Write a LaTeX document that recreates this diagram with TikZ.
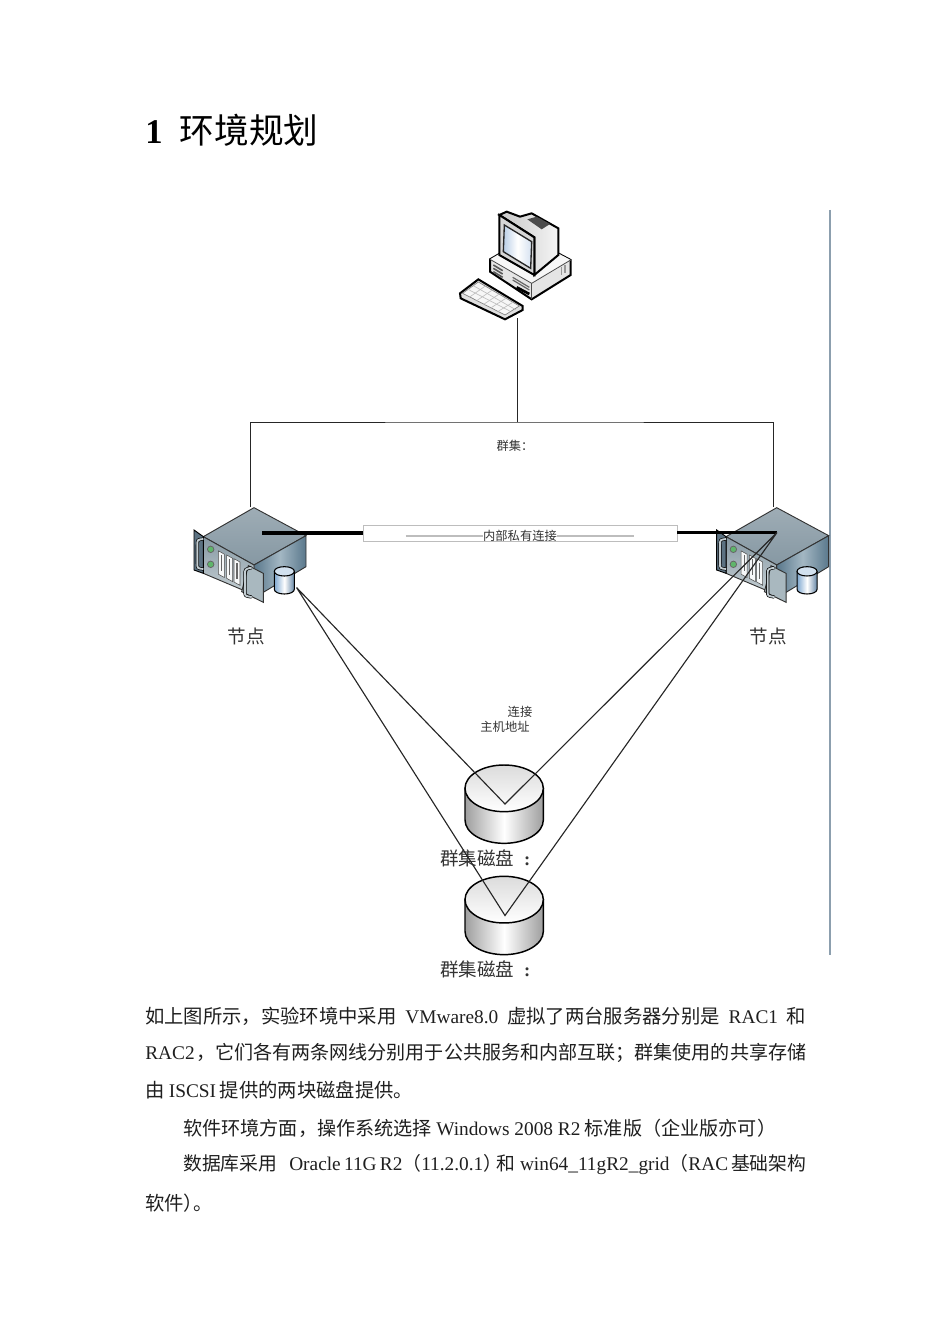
\documentclass[tikz,border=0pt]{standalone}
\usepackage{fontspec}
\setmainfont{Noto Sans CJK SC}
\newfontfamily\lat{Liberation Serif}
\newcommand{\latb}[1]{{\fontsize{14.5}{16}\lat #1}}
\usetikzlibrary{positioning}
\definecolor{ruleblue}{HTML}{8C9FAE}
\definecolor{boxgray}{HTML}{BDBDBD}
\definecolor{topblue}{HTML}{8698A3}
\definecolor{sideblue}{HTML}{5A788C}
\definecolor{sidelight}{HTML}{A3B7C3}
\definecolor{plategray}{HTML}{A9B8BF}
\definecolor{earblue}{HTML}{5C7282}
\definecolor{ledgreen}{HTML}{5FB56B}
\definecolor{drumblue}{HTML}{7FA8D0}
\definecolor{screenblue}{HTML}{B9CEE6}
\tikzset{
  bodyline/.style={anchor=west, inner sep=0pt, font=\fontsize{14.5}{16}\selectfont, text=black!88},
  biglabel/.style={inner sep=0pt, font=\fontsize{13.9}{16}\selectfont, text=black!80},
  smalllabel/.style={inner sep=0pt, font=\fontsize{9.2}{11}\selectfont, text=black!80},
  buswire/.style={draw=black!85, line width=0.6pt},
  wire/.style={draw=black!85, line width=0.85pt},
  fatwire/.style={draw=black, line width=2.6pt},
  pics/rackserver/.style={code={
    % body
    \draw[black!80, line width=0.7pt, top color=topblue!80, bottom color=topblue] (222,38) -- (378,122) -- (222,210) -- (70,125) -- cycle;
    \draw[black!80, line width=0.7pt, left color=sideblue, right color=sideblue, middle color=sidelight] (222,210) -- (378,122) -- (378,215) -- (250,292) -- (222,275) -- cycle;
    \draw[black!80, line width=0.7pt, top color=topblue, bottom color=plategray!70] (70,125) -- (222,210) -- (222,275) -- (200,290) -- (70,235) -- cycle;
    % ears
    \draw[black, line width=0.7pt, fill=earblue] (42,105) -- (70,125) -- (70,235) -- (42,225) -- cycle;
    \draw[black!80, line width=0.7pt, fill=plategray] (205,212) -- (250,235) -- (250,322) -- (185,290) -- cycle;
    \draw[black, line width=2.4pt] (70,132) .. controls (52,134) .. (52,150) -- (52,205) .. controls (52,220) .. (70,222);
    \draw[plategray!70, line width=1.4pt] (70,132) .. controls (52,134) .. (52,150) -- (52,205) .. controls (52,220) .. (70,222);
    \draw[black, line width=2.4pt] (215,218) .. controls (195,222) .. (195,238) -- (195,290) .. controls (195,303) .. (215,306);
    \draw[plategray!70, line width=1.4pt] (215,218) .. controls (195,222) .. (195,238) -- (195,290) .. controls (195,303) .. (215,306);
    % leds
    \fill[black!60] (92,163) circle (11);
    \fill[ledgreen] (92,163) circle (8);
    \fill[black!60] (92,208) circle (11);
    \fill[ledgreen] (92,208) circle (8);
    % slots
    \foreach \sx in {115,140,162}{
      \draw[black!70, line width=0.4pt, fill=white!90!plategray] (\sx,167+\sx/2-57) -- ++(18,10) -- ++(0,70) -- ++(-18,-10) -- cycle;
      \draw[black!60, line width=0.8pt] (\sx+9,180+\sx/2-57) -- ++(0,48);
    }
    % drum
    \draw[black, line width=0.8pt, left color=drumblue, right color=drumblue!80!black, middle color=white] (283,229) -- (283,283) .. controls (283,291) and (296,297) .. (313,297) .. controls (330,297) and (343,291) .. (343,283) -- (343,229) -- cycle;
    \draw[black, line width=0.8pt, fill=drumblue!35] (283,229) .. controls (283,221) and (296,215) .. (313,215) .. controls (330,215) and (343,221) .. (343,229) .. controls (343,237) and (330,243) .. (313,243) .. controls (296,243) and (283,237) .. (283,229) -- cycle;
  }},
  pics/clusterdisk/.style={code={
    \draw[black, line width=1.1pt, left color=black!38, right color=black!38, middle color=white] (105,115) -- (105,210) .. controls (105,249) and (158,280) .. (222,280) .. controls (287,280) and (340,249) .. (340,210) -- (340,115) -- cycle;
    \draw[black, line width=1.1pt, top color=black!14, bottom color=white] (105,115) .. controls (105,76) and (158,45) .. (222,45) .. controls (287,45) and (340,76) .. (340,115) .. controls (340,154) and (287,185) .. (222,185) .. controls (158,185) and (105,154) .. (105,115) -- cycle;
  }},
  pics/desktoppc/.style={code={
    % base
    \draw[black, line width=1.5pt, fill=black!10] (150,178) -- (215,140) -- (345,155) -- (392,180) -- (392,225) -- (275,298) -- (150,215) -- cycle;
    \fill[black!3] (150,178) -- (215,140) -- (345,155) -- (392,180) -- (275,250) -- cycle;
    \draw[black!70, line width=0.6pt] (150,178) -- (275,250) -- (392,180);
    \draw[black!70, line width=0.6pt] (275,250) -- (275,298);
    \draw[black!65, line width=1.2pt] (160,195) -- (188,212) (160,205) -- (188,222) (160,215) -- (188,232);
    \draw[black!60, line width=0.9pt] (218,232) -- (268,262) (218,240) -- (268,270);
    \draw[black, line width=2pt] (230,262) -- (268,282);
    \draw[black!40, line width=1.2pt] (365,200) -- (365,225) (375,195) -- (375,220);
    % monitor
    \draw[black, line width=1.5pt, left color=black!22, right color=black!4] (178,45) -- (200,35) -- (240,50) -- (275,40) -- (355,85) -- (355,165) -- (283,225) -- (283,112) -- cycle;
    \draw[black, line width=1.5pt, fill=black!16] (178,45) -- (283,112) -- (283,225) -- (178,165) -- cycle;
    \draw[black!85, line width=1pt, left color=screenblue, right color=screenblue!60, middle color=white] (193,75) -- (275,125) -- (272,205) -- (190,155) -- cycle;
    \fill[black!70] (262,58) -- (290,50) -- (330,72) -- (305,88) -- cycle;
    % keyboard
    \draw[black, line width=1.5pt, fill=black!12] (60,280) -- (115,238) -- (248,318) -- (248,330) -- (195,358) -- (62,295) -- cycle;
    \draw[black!50, line width=0.5pt, fill=black!3] (68,280) -- (115,246) -- (238,318) -- (195,345) -- cycle;
    \foreach \kx in {1,...,5}{
      \draw[black!25, line width=0.5pt] (68+\kx*21,280+\kx*11) -- (115+\kx*21,246+\kx*12);
    }
    \draw[black!25, line width=0.5pt] (84,268) -- (211,334) (100,257) -- (227,329);
  }}
}
\begin{document}
\begin{tikzpicture}[x=0.75pt,y=-0.75pt]
\useasboundingbox (0,0) rectangle (950,1344);

% heading
\node[anchor=west, inner sep=0pt, font=\fontsize{26}{30}\selectfont] (heading) at (145,130) {{\lat\bfseries 1}\hspace{0.5em}环境规划};

% right margin rule
\coordinate (ruletop) at (830,210);
\coordinate (rulebottom) at (830,955);
\draw[ruleblue, line width=1.6pt] (ruletop) -- (rulebottom);

% icons
\begin{scope}[shift={(440,200)},x=0.25pt,y=-0.25pt]
  \pic {desktoppc};
\end{scope}
\begin{scope}[shift={(180,495)},x=0.25pt,y=-0.25pt]
  \pic {rackserver};
\end{scope}
\begin{scope}[shift={(702.7,495)},x=0.25pt,y=-0.25pt]
  \pic {rackserver};
\end{scope}
\begin{scope}[shift={(430,750)},x=0.25pt,y=-0.25pt]
  \pic {clusterdisk};
\end{scope}
\begin{scope}[shift={(430,861.3)},x=0.25pt,y=-0.25pt]
  \pic {clusterdisk};
\end{scope}

% connector ends
\coordinate (pcport) at (517,318);
\coordinate (bustop) at (517,422);
\coordinate (rac1top) at (250,507);
\coordinate (rac2top) at (773,507);
\coordinate (rac1hub) at (262,533);
\coordinate (rac2hub) at (777,532.5);
\coordinate (rac1port) at (296.5,587.5);
\coordinate (disk1tip) at (505,804);
\coordinate (disk2tip) at (505,915.5);

% labels
\node[smalllabel] (clusterlabel) at (515,446) {群集：};
\node[biglabel] (rac1label) at (246,636) {节点};
\node[biglabel] (rac2label) at (768,636) {节点};
\node[smalllabel] (linklabel) at (520,712) {连接};
\node[smalllabel] (hostlabel) at (505,727) {主机地址};
\node[biglabel, anchor=west] (disk1label) at (440,858) {群集磁盘\hspace{0.52em}{\lat\bfseries :}};
\node[biglabel, anchor=west] (disk2label) at (440,969) {群集磁盘\hspace{0.52em}{\lat\bfseries :}};

% private link box
\node[draw=boxgray, line width=0.5pt, fill=white, minimum width=235.5pt, minimum height=11.6pt, inner sep=0pt, font=\fontsize{9.2}{11}\selectfont, text=black!80] (linkbox) at (520,533.3)
  {\raisebox{-5.2pt}[0pt][0pt]{\textcolor{boxgray}{\rule[0.3em]{58pt}{1pt}}内部私有连接\textcolor{boxgray}{\rule[0.3em]{58pt}{1pt}}}};

% connectors
\draw[buswire] (pcport) -- (bustop);
\draw[buswire] (rac1top) |- (bustop) -| (rac2top);
\draw[fatwire] (rac1hub) -- (rac1hub -| linkbox.west);
\draw[fatwire] (rac2hub -| linkbox.east) -- (rac2hub);
\draw[wire] (rac1port) -- (disk1tip) -- (rac2hub) -- (disk2tip) -- (rac1port);

% body text
\node[bodyline] (line1) at (145,1016) {\makebox[495.75pt][s]{如上图所示，实验环境中采用\hfill {\lat VMware8.0}\hfill 虚拟了两台服务器分别是\hfill {\lat RAC1}\hfill 和}};
\node[bodyline, font=\fontsize{14.3}{16}\selectfont] (line2) at (145,1053) {\makebox[495.75pt][s]{\latb{RAC2}\hfill ，它们各有两条网线分别用于公共服务和内部互联；群集使用的共享存储}};
\node[bodyline] (line3) at (145,1090) {由\hspace{0.22em}{\lat ISCSI}\hspace{0.2em}提供的两块磁盘提供。};
\node[bodyline, font=\fontsize{14.35}{16}\selectfont] (line4) at (183,1128) {软件环境方面，操作系统选择 \latb{Windows 2008 R2} 标准版（企业版亦可）};
\node[bodyline, font=\fontsize{14.1}{16}\selectfont] (line5) at (183,1165) {\makebox[467.25pt][s]{数据库采用\hspace{9pt}\latb{Oracle 11G R2}（\latb{11.2.0.1}）\hspace{-4.5pt}和\hspace{3.75pt}\latb{win64\_11gR2\_grid}\hfill （\latb{RAC} 基础架构}};
\node[bodyline] (line6) at (145,1203) {软件）\hspace{-0.5em}。};
\end{tikzpicture}
\end{document}
